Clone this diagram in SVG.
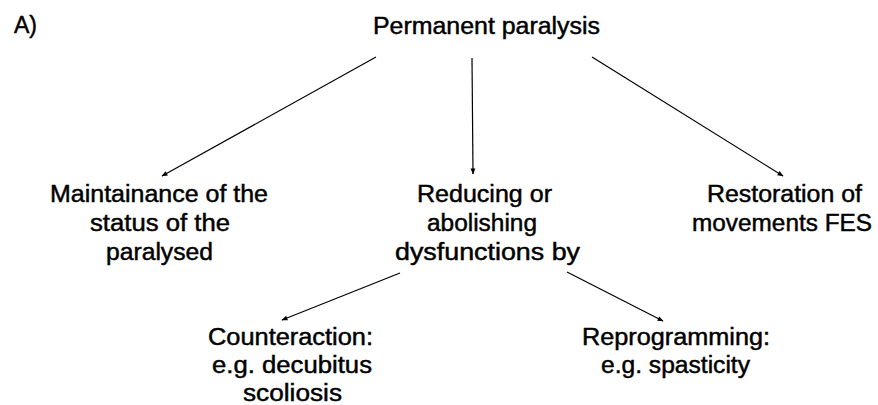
<svg xmlns="http://www.w3.org/2000/svg" width="878" height="405" viewBox="0 0 878 405">
<defs>
<style>
text{font-family:"Liberation Sans",Arial,Helvetica,sans-serif;font-size:23px;fill:#000;stroke:#000;stroke-width:0.45px}
.c{stroke:#000;stroke-width:1.2;fill:none}
</style>
<marker id="ah" viewBox="0 0 10 10" refX="9" refY="5" markerWidth="7" markerHeight="6" markerUnits="userSpaceOnUse" orient="auto">
<path d="M0,1 L10,5 L0,9 Z" fill="#000"/>
</marker>
</defs>
<rect width="878" height="405" fill="#fff"/>
<text x="14" y="33" textLength="23" lengthAdjust="spacingAndGlyphs">A)</text>
<g id="root"><text x="373" y="34" textLength="227" lengthAdjust="spacingAndGlyphs">Permanent paralysis</text></g>
<g id="maint">
<text x="50" y="202" textLength="218" lengthAdjust="spacingAndGlyphs">Maintainance of the</text>
<text x="90" y="231" textLength="140" lengthAdjust="spacingAndGlyphs">status of the</text>
<text x="106" y="260" textLength="107" lengthAdjust="spacingAndGlyphs">paralysed</text>
</g>
<g id="reduce">
<text x="417" y="202" textLength="135" lengthAdjust="spacingAndGlyphs">Reducing or</text>
<text x="427" y="231" textLength="110" lengthAdjust="spacingAndGlyphs">abolishing</text>
<text x="395" y="260" textLength="185" lengthAdjust="spacingAndGlyphs">dysfunctions by</text>
</g>
<g id="restore">
<text x="707" y="202" textLength="155" lengthAdjust="spacingAndGlyphs">Restoration of</text>
<text x="692" y="231" textLength="180" lengthAdjust="spacingAndGlyphs">movements FES</text>
</g>
<g id="counter">
<text x="208" y="345" textLength="165" lengthAdjust="spacingAndGlyphs">Counteraction:</text>
<text x="212" y="373" textLength="160" lengthAdjust="spacingAndGlyphs">e.g. decubitus</text>
<text x="243" y="401" textLength="99" lengthAdjust="spacingAndGlyphs">scoliosis</text>
</g>
<g id="reprog">
<text x="582" y="345" textLength="188" lengthAdjust="spacingAndGlyphs">Reprogramming:</text>
<text x="601" y="373" textLength="149" lengthAdjust="spacingAndGlyphs">e.g. spasticity</text>
</g>
<g id="connectors">
<line class="c" x1="376" y1="57" x2="162" y2="176" marker-end="url(#ah)"/>
<line class="c" x1="472" y1="58" x2="473" y2="174" marker-end="url(#ah)"/>
<line class="c" x1="592" y1="57" x2="783" y2="176" marker-end="url(#ah)"/>
<line class="c" x1="400" y1="273" x2="282" y2="320" marker-end="url(#ah)"/>
<line class="c" x1="567" y1="272" x2="663" y2="321" marker-end="url(#ah)"/>
</g>
</svg>
